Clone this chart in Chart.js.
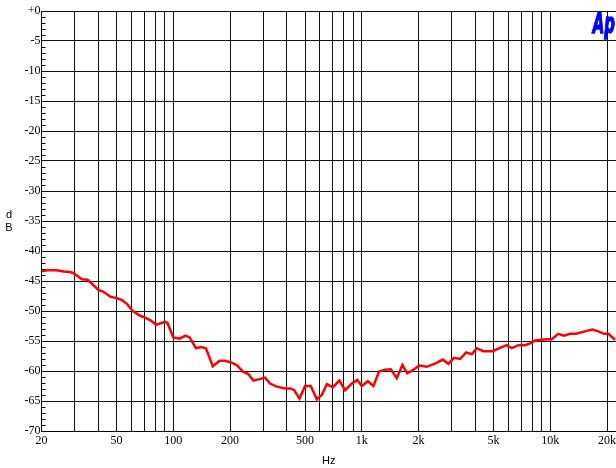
<!DOCTYPE html>
<html><head><meta charset="utf-8">
<script src="https://cdn.jsdelivr.net/npm/chart.js@4"></script>
<style>html,body{margin:0;padding:0;background:#fff}#wrap{width:616px;height:468px}</style>
</head><body><div id="wrap"><canvas id="c" width="616" height="468"></canvas></div>
<script>
const freqHz = [20.1,21.4,24.1,26.2,28.4,29.6,32.7,35.1,40.1,42.6,46.3,50.6,53.4,56.7,61,66.7,70.9,76,81.1,90.6,93.1,100,108,116,122,132,140,149,162,176,188,204,217,234,250,266,283,307,326,354,392,417,438,467,500,536,577,613,652,702,760,815,885,947,999,1076,1152,1235,1329,1424,1533,1641,1744,1877,2020,2210,2476,2688,2878,3084,3320,3572,3830,4070,4412,4948,5364,5872,6242,6764,7340,7802,8292,9002,9638,10170,11022,11814,12716,13682,15270,16692,17964,19258,20296,22026];
const levelDb = [-43.4,-43.2,-43.2,-43.4,-43.5,-43.7,-44.7,-44.8,-46.5,-46.8,-47.6,-47.9,-48.2,-48.8,-50,-50.8,-51.1,-51.6,-52.3,-51.8,-52,-54.4,-54.6,-54.1,-54.4,-56.2,-56,-56.2,-59.2,-58.3,-58.3,-58.6,-59,-60.1,-60.5,-61.6,-61.4,-61.1,-62.1,-62.6,-62.9,-62.9,-63.2,-64.6,-62.5,-62.5,-64.7,-64,-62.2,-62.7,-61.6,-63.2,-62.1,-61.5,-62.5,-61.7,-62.5,-60.1,-59.8,-59.7,-61.2,-59,-60.4,-59.8,-59.1,-59.3,-58.7,-58.1,-58.8,-57.8,-58,-56.9,-57.2,-56.2,-56.7,-56.7,-56.2,-55.7,-56.2,-55.7,-55.7,-55.4,-54.9,-54.8,-54.7,-54.7,-53.8,-54.1,-53.8,-53.8,-53.4,-53.1,-53.4,-53.8,-53.8,-54.8];
const xGridHz = [20,30,40,50,60,70,80,90,100,200,300,400,500,600,700,800,900,1000,2000,3000,4000,5000,6000,7000,8000,9000,10000,20000];
const xLabelHz = [20,50,100,200,500,1000,2000,5000,10000,20000];
const xLabelText = ['20','50','100','200','500','1k','2k','5k','10k','20k'];
const yTickDb = [0,-5,-10,-15,-20,-25,-30,-35,-40,-45,-50,-55,-60,-65,-70];
const yTickText = ['+0','-5','-10','-15','-20','-25','-30','-35','-40','-45','-50','-55','-60','-65','-70'];
const yMinorDb = [];
for (let v = 0; v >= -70; v--) { if (v % 5 !== 0) yMinorDb.push(v); }

const decor = {
  id: 'decor',
  afterDraw(chart) {
    const ctx = chart.ctx, ys = chart.scales.y, xs = chart.scales.x;
    ctx.save();
    ctx.strokeStyle = '#000';
    ctx.lineWidth = 1;
    ctx.beginPath();
    yMinorDb.forEach(v => {
      const py = Math.round(ys.getPixelForValue(v)) + 0.5;
      ctx.moveTo(xs.left, py); ctx.lineTo(xs.left + 4, py);
    });
    ctx.stroke();
    ctx.fillStyle = '#000';
    ctx.font = '11px "Liberation Sans", Arial, sans-serif';
    ctx.textAlign = 'center';
    ctx.textBaseline = 'middle';
    ctx.fillText('d', 9, 215);
    ctx.fillText('B', 9, 228);
    ctx.fillStyle = '#0000ff';
    ctx.strokeStyle = '#0000ff';
    ctx.lineWidth = 1.2;
    ctx.font = 'oblique bold 24px "DejaVu Sans"';
    ctx.textAlign = 'right';
    ctx.textBaseline = 'alphabetic';
    ctx.translate(615, 33);
    ctx.scale(0.62, 1.15);
    ctx.fillText('Ap', 0, 0);
    ctx.strokeText('Ap', 0, 0);
    ctx.restore();
  }
};

new Chart(document.getElementById('c'), {
  type: 'line',
  data: {
    datasets: [{
      data: freqHz.map((f, i) => ({x: f, y: levelDb[i]})),
      borderColor: '#ff0000',
      borderWidth: 2.5,
      pointRadius: 0,
      tension: 0,
      fill: false
    }]
  },
  options: {
    responsive: false,
    devicePixelRatio: 1,
    animation: false,
    layout: {padding: {top: 11, right: 0, left: 0, bottom: 0}},
    plugins: {legend: {display: false}, tooltip: {enabled: false}},
    scales: {
      x: {
        type: 'logarithmic',
        min: 20, max: 22300,
        afterBuildTicks: s => { s.ticks = xGridHz.map(v => ({value: v})); },
        afterFit: s => { s.height = 37; s.paddingRight = 0; s.paddingLeft = 0; },
        ticks: {
          autoSkip: false, maxRotation: 0, padding: 3,
          font: {family: '"Liberation Serif", serif', size: 12},
          color: '#000',
          callback: v => { const i = xLabelHz.indexOf(v); return i >= 0 ? xLabelText[i] : ''; }
        },
        grid: {color: '#111', lineWidth: 1, drawTicks: false},
        border: {color: '#000', width: 1},
        title: {display: true, text: 'Hz', color: '#000', font: {family: '"Liberation Sans", Arial, sans-serif', size: 11}, padding: {top: 9, bottom: 0}}
      },
      y: {
        min: -70, max: 0,
        afterBuildTicks: s => { s.ticks = yTickDb.map(v => ({value: v})); },
        afterFit: s => { s.width = 41.5; s.paddingTop = 0; s.paddingBottom = 0; },
        ticks: {
          autoSkip: false, padding: 1,
          font: {family: '"Liberation Serif", serif', size: 12},
          color: '#000',
          callback: v => { const i = yTickDb.indexOf(v); return i >= 0 ? yTickText[i] : ''; }
        },
        grid: {color: '#111', lineWidth: 1, drawTicks: false},
        border: {color: '#000', width: 1}
      }
    }
  },
  plugins: [decor]
});
</script></body></html>
